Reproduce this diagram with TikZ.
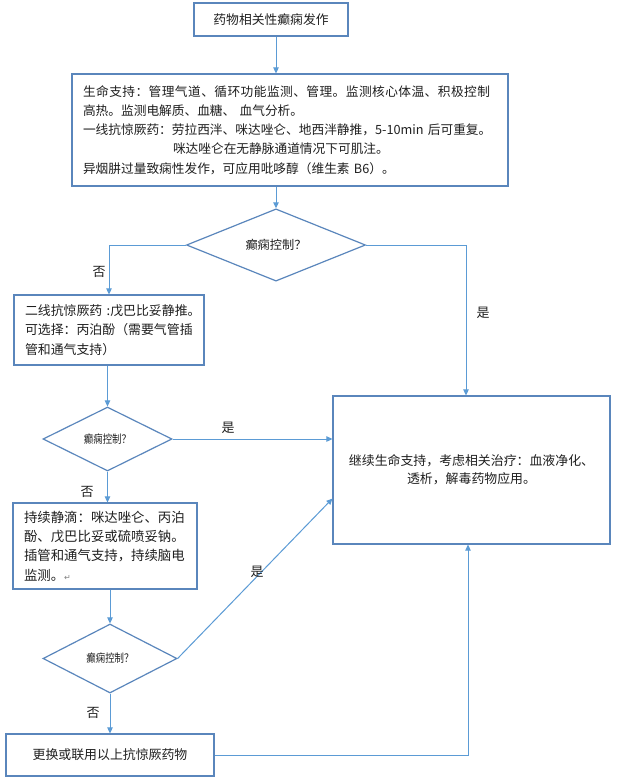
\documentclass[tikz,border=0pt]{standalone}
\usepackage{fontspec}
\setmainfont{Liberation Sans}
\newfontfamily\cjk{Noto Sans CJK SC}
\newfontfamily\symf{DejaVu Sans}
\usetikzlibrary{shapes.geometric,arrows.meta,calc}
\definecolor{boxc}{HTML}{5A86BC}
\definecolor{linec}{HTML}{5B9BD5}
\definecolor{txt}{HTML}{1F1F1F}
\begin{document}
\begin{tikzpicture}[x=1pt,y=-1pt,
  box/.style={draw=boxc,line width=1.2pt,fill=white,inner sep=0pt,text=txt},
  dia/.style={draw=boxc,line width=1.2pt,shape=diamond,inner sep=0pt,text=txt},
  conn/.style={draw=linec,line width=1pt,-{Triangle[length=6pt,width=5.5pt]}},
  lab/.style={font=\cjk\fontsize{13}{13}\selectfont,text=txt,inner sep=0pt}]
\useasboundingbox (0,0) rectangle (619,780);
\fill[white] (0,0) rectangle (619,780);

\node[box, minimum width=154pt, minimum height=33pt, font=\cjk\fontsize{12.8}{15}\selectfont] (top) at (271,19.5) {药物相关性癫痫发作};

\node[box, minimum width=436pt, minimum height=112pt, text width=414pt, inner xsep=11pt, align=left, font=\cjk\fontsize{12.7}{19.25}\selectfont] (big) at (290,130)
{{\addfontfeature{LetterSpace=3.5}生命支持：管理气道、循环功能监测、管理。监测核心体温、积极控制}\\
高热。监测电解质、血糖、~血气分析。\\
一线抗惊厥药：劳拉西泮、咪达唑仑、地西泮静推，5-10min~后可重复。\\
\hspace*{90pt}咪达唑仑在无静脉通道情况下可肌注。\\
异烟肼过量致痫性发作，可应用吡哆醇（维生素~B6）。};

\node[dia, minimum width=179pt, minimum height=56pt, font=\cjk\fontsize{12.2}{12}\selectfont] (d1) at (276,245) {癫痫控制？};

\node[box, minimum width=190pt, minimum height=70pt, text width=168pt, inner xsep=11pt, align=left, font=\cjk\fontsize{12.9}{19.5}\selectfont] (b2) at (109,330)
{二线抗惊厥药~:戊巴比妥静推。\\
可选择：丙泊酚（需要气管插\\
管和通气支持）};

\node[dia, minimum width=129pt, minimum height=64pt, font=\cjk\fontsize{11.5}{11}\selectfont] (d2) at (107.5,439) {\scalebox{0.82}[1]{癫痫控制？}};

\node[box, minimum width=184pt, minimum height=86pt, text width=162pt, inner xsep=11pt, align=left, font=\cjk\fontsize{13.4}{19.3}\selectfont] (b3) at (105,546)
{持续静滴：咪达唑仑、丙泊\\
酚、戊巴比妥或硫喷妥钠。\\
插管和通气支持，持续脑电\\
监测。{\symf\color{gray}\fontsize{8}{8}\selectfont ↵}};

\node[dia, minimum width=134pt, minimum height=69pt, font=\cjk\fontsize{11.5}{11}\selectfont] (d3) at (110,658.5) {\scalebox{0.82}[1]{癫痫控制？}};

\node[box, minimum width=208pt, minimum height=42pt, font=\cjk\fontsize{12.9}{15}\selectfont] (b4) at (110,755) {更换或联用以上抗惊厥药物};

\node[box, minimum width=277pt, minimum height=148pt, align=center, font=\cjk\fontsize{12.9}{18}\selectfont] (rb) at (471.5,470)
{继续生命支持，考虑相关治疗：血液净化、\\
透析，解毒药物应用。};

\draw[conn] (d1.north |- top.south) -- (d1.north |- big.north);
\draw[conn] (d1.north |- big.south) -- (d1.north);
\draw[conn] (d1.west) -| (b2.north);
\draw[conn] (d1.east) -| ($(rb.north)+(-5.5,0)$);
\draw[conn] (d2.north |- b2.south) -- (d2.north);
\draw[conn] (d2.east) -- (d2.east -| rb.west);
\draw[conn] (d2.south) -- (d2.south |- b3.north);
\draw[conn] (d3.north |- b3.south) -- (d3.north);
\draw[conn] (d3.east) -- ($(rb.south west)+(0,-46)$);
\draw[conn] (d3.south) -- (b4.north);
\draw[conn] (b4.east) -| ($(rb.south)+(-3.5,0)$);

\node[lab] (n1) at (99,272) {否};
\node[lab] (y1) at (483,313) {是};
\node[lab] (y2) at (228,428) {是};
\node[lab] (n2) at (87,492) {否};
\node[lab] (y3) at (257,572) {是};
\node[lab] (n3) at (93,713) {否};
\end{tikzpicture}
\end{document}
